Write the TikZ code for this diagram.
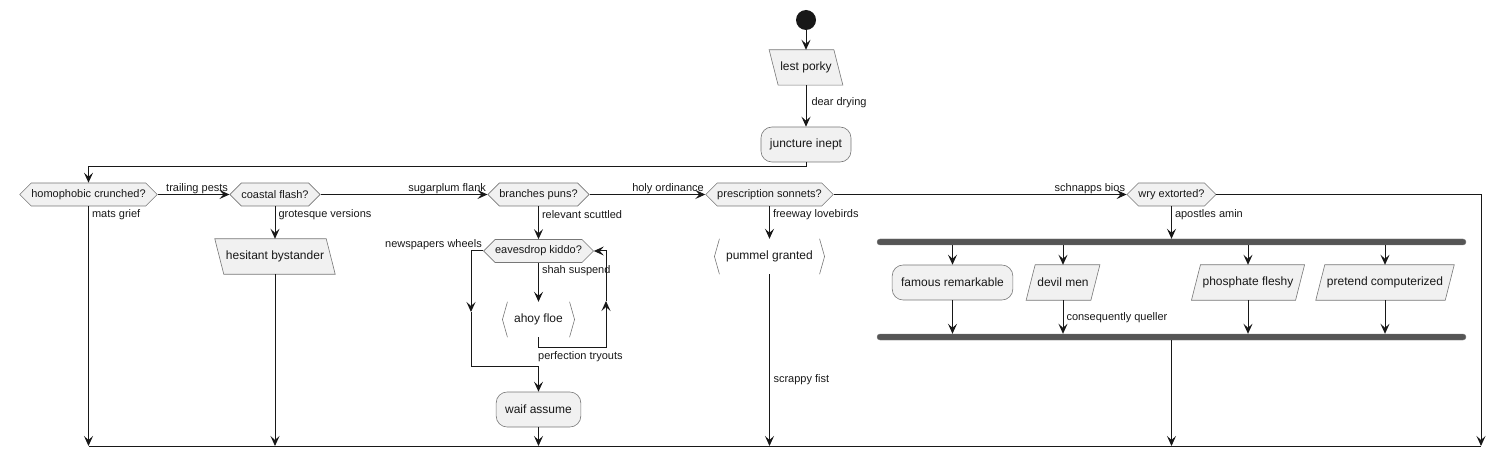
\documentclass[tikz,border=0pt]{standalone}
\usepackage{fontspec}
\setmainfont{Liberation Sans}
\usetikzlibrary{arrows.meta,shapes.geometric,shapes.symbols,calc}
\definecolor{nodefill}{HTML}{F1F1F1}
\definecolor{lineclr}{HTML}{181818}
\definecolor{bordclr}{HTML}{777777}
\definecolor{barclr}{HTML}{555555}
\pgfdeclarelayer{bg}
\pgfsetlayers{bg,main}
\begin{document}
\begin{tikzpicture}[x=1pt,y=-1pt,
  every node/.style={text=lineclr},
  txt/.style={font=\fontsize{12}{14}\selectfont},
  lbl/.style={font=\fontsize{11}{13}\selectfont, inner sep=0pt},
  act/.style={txt, draw=bordclr, line width=0.6pt, fill=nodefill, rounded corners=11pt, minimum height=35pt, inner xsep=9pt},
  hexa/.style={shape=signal, signal to=west and east, draw=bordclr, fill=nodefill, line width=0.6pt,
     minimum height=23pt, inner xsep=0pt, inner ysep=2pt, font=\fontsize{11}{13}\selectfont},
  parbody/.style={txt, draw=none, minimum height=35pt, inner xsep=2pt},
  shp/.style={draw=bordclr, fill=nodefill, line width=0.6pt},
  brk/.style={txt, draw=none, minimum height=35pt, inner xsep=6.5pt},
  brkline/.style={draw=bordclr, line width=0.6pt},
  bar/.style={fill=barclr, draw=barclr!80!white, line width=0.4pt, rounded corners=3pt, minimum height=6pt, inner sep=0pt},
  flow/.style={draw=lineclr, line width=1pt, -{Stealth[length=10pt,width=9pt,inset=4pt]}},
  plain/.style={draw=lineclr, line width=1pt}
]
\useasboundingbox (0,0) rectangle (1505,457);
\coordinate (bot) at (0,446);
\coordinate (jrow) at (0,167);

% nodes
\node[circle, fill=lineclr, minimum size=20pt, inner sep=0pt] (start) at (806,20) {};
\node[parbody] (lp) at (806,67.5) {lest porky};
\node[act] (ji) at (806,144.5) {juncture inept};

\node[hexa] (h1) at (88.5,194.5) {homophobic crunched?};
\node[hexa] (h2) at (275,194.5) {coastal flash?};
\node[hexa] (h3) at (538.5,194.5) {branches puns?};
\node[hexa] (h4) at (769.5,194.5) {prescription sonnets?};
\node[hexa] (h5) at (1171.5,194.5) {wry extorted?};

\node[parbody] (hb) at (275,256.5) {hesitant bystander};
\node[hexa] (ed) at (538.5,251) {eavesdrop kiddo?};
\node[brk] (af) at (538.5,319.5) {ahoy floe};
\node[act] (wa) at (538.5,409.5) {waif assume};
\node[brk] (pg) at (769.5,256.5) {pummel granted};

\node[bar, minimum width=589pt] (fork) at (1171.5,242) {};
\node[act] (fr) at (952.5,282.5) {famous remarkable};
\node[parbody] (dm) at (1063,282.5) {devil men};
\node[parbody] (pf) at (1248,282.5) {phosphate fleshy};
\node[parbody] (pc) at (1385,282.5) {pretend computerized};
\node[bar, minimum width=589pt] (join) at (1171.5,337) {};

% parallelogram outlines behind their texts
\begin{pgfonlayer}{bg}
\foreach \n in {lp,hb}{
  \path[shp] ($(\n.north west)+(-9,0)$) -- (\n.north east) -- ($(\n.south east)+(9,0)$) -- (\n.south west) -- cycle;
}
\foreach \n in {dm,pf,pc}{
  \path[shp] ($(\n.south west)+(-9,0)$) -- (\n.north west) -- ($(\n.north east)+(9,0)$) -- (\n.south east) -- cycle;
}
\end{pgfonlayer}

% bracket outlines
\foreach \n in {af,pg}{
  \draw[brkline] (\n.north west) -- ($(\n.west)+(-5,0)$) -- (\n.south west);
  \draw[brkline] (\n.north east) -- ($(\n.east)+(5,0)$) -- (\n.south east);
}

% connectors
\draw[flow] (start) -- (lp.north);
\draw[flow] (lp.south) -- (ji.north) node[lbl, anchor=west] at (811,103) {dear drying};
\draw[flow] (ji.south) -- (ji.south |- jrow) -- (h1.north |- jrow) -- (h1.north);

\draw[flow] (h1.east) -- (h2.west) node[lbl, anchor=base east] at ($(h2.west)+(-1,-3)$) {trailing pests};
\draw[flow] (h1.south) -- (h1.south |- bot) node[lbl, anchor=west] at ($(h1.south)+(3,8)$) {mats grief};
\draw[flow] (h2.south) -- (hb.north) node[lbl, anchor=west] at ($(h2.south)+(3,8)$) {grotesque versions};
\draw[flow] (hb.south) -- (hb.south |- bot);

\draw[flow] (h2.east) -- (h3.west) node[lbl, anchor=base east] at ($(h3.west)+(-1,-3)$) {sugarplum flank};
\draw[flow] (h3.south) -- (ed.north) node[lbl, anchor=west] at ($(h3.south)+(3,8)$) {relevant scuttled};
\draw[flow] (ed.south) -- (af.north) node[lbl, anchor=west] at ($(ed.south)+(3,8)$) {shah suspend};

\coordinate (rb) at (606,347);
\coordinate (rm) at (606,301);
\draw[flow] (af.south) -- (af.south |- rb) -- (rb) -- (rm);
\draw[flow] (rm) -- (rm |- ed.east) -- (ed.east);
\node[lbl, anchor=west] at (538,357) {perfection tryouts};

\coordinate (lm) at (471,312);
\coordinate (lb) at (471,366);
\draw[flow] (ed.west) -- (lm |- ed.west) -- (lm);
\draw[flow] (lm) -- (lb) -- (wa.north |- lb) -- (wa.north);
\node[lbl, anchor=east] at (482,245) {newspapers wheels};
\draw[flow] (wa.south) -- (wa.south |- bot);

\draw[flow] (h3.east) -- (h4.west) node[lbl, anchor=base east] at ($(h4.west)+(-1,-3)$) {holy ordinance};
\draw[flow] (h4.south) -- (pg.north) node[lbl, anchor=west] at ($(h4.south)+(3,8)$) {freeway lovebirds};
\draw[flow] (pg.south) -- (pg.south |- bot) node[lbl, anchor=west] at (773,380) {scrappy fist};

\draw[flow] (h4.east) -- (h5.west) node[lbl, anchor=base east] at ($(h5.west)+(-1,-3)$) {schnapps bios};
\draw[flow] (h5.south) -- (fork.north) node[lbl, anchor=west] at ($(h5.south)+(3,8)$) {apostles amin};

\foreach \n in {fr,dm,pf,pc}{
  \draw[flow] (\n.north |- fork.south) -- (\n.north);
}
\draw[flow] (fr.south) -- (fr.south |- join.north);
\draw[flow] (dm.south) -- (dm.south |- join.north) node[lbl, anchor=west] at (1066,318) {consequently queller};
\draw[flow] (pf.south) -- (pf.south |- join.north);
\draw[flow] (pc.south) -- (pc.south |- join.north);
\draw[flow] (join.south) -- (join.south |- bot);

\coordinate (re) at (1481,194.5);
\draw[flow] (h5.east) -- (re) -- (re |- bot);

\draw[plain] (h1.south |- bot) -- (re |- bot);
\end{tikzpicture}
\end{document}
